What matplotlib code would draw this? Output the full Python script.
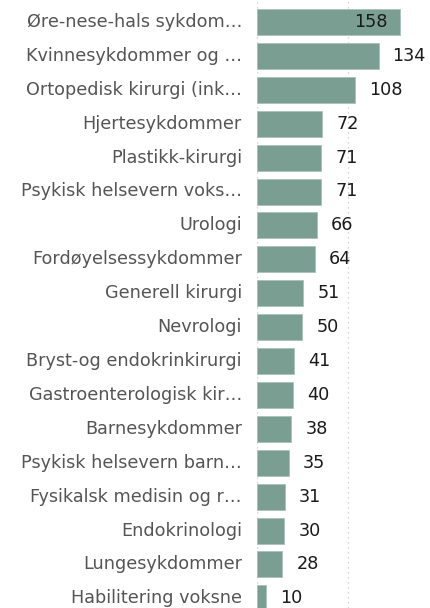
import matplotlib
matplotlib.use("Agg")
import matplotlib.pyplot as plt

categories = [
    "Øre-nese-hals sykdom…",
    "Kvinnesykdommer og …",
    "Ortopedisk kirurgi (ink…",
    "Hjertesykdommer",
    "Plastikk-kirurgi",
    "Psykisk helsevern voks…",
    "Urologi",
    "Fordøyelsessykdommer",
    "Generell kirurgi",
    "Nevrologi",
    "Bryst-og endokrinkirurgi",
    "Gastroenterologisk kir…",
    "Barnesykdommer",
    "Psykisk helsevern barn…",
    "Fysikalsk medisin og r…",
    "Endokrinologi",
    "Lungesykdommer",
    "Habilitering voksne",
]
values = [158, 134, 108, 72, 71, 71, 66, 64, 51, 50, 41, 40, 38, 35, 31, 30, 28, 10]

W, H = 431, 608
fig = plt.figure(figsize=(W / 100, H / 100), dpi=100)
x0 = 257
ax = fig.add_axes([x0 / W, 0, (W - x0) / W, 1])
ppu = 143.3 / 158  # pixels per unit
ax.set_xlim(0, (W - x0) / ppu)
pitch = 33.9
ax.set_ylim((H - 22) / pitch, -22 / pitch)

ypos = list(range(len(categories)))
for g in [0, 100, 200]:
    ax.axvline(g, color="#c8c8c8", linestyle=(0, (1, 3)), linewidth=0.9, zorder=0)

ax.barh(ypos, values, height=26 / pitch, color="#7a9e92",
        edgecolor="#a9c2b9", linewidth=0.6, zorder=2)

fs = 12.7
for y, v, c in zip(ypos, values, categories):
    if v >= 150:
        ax.text(v - 13 / ppu, y, str(v), ha="right", va="center",
                fontsize=fs, color="#1a1a1a", zorder=3)
    else:
        ax.text(v + 14 / ppu, y, str(v), ha="left", va="center",
                fontsize=fs, color="#1a1a1a", zorder=3)
    ax.text(-15 / ppu, y, c, ha="right", va="center", fontsize=fs,
            color="#555555", clip_on=False)

for s in ax.spines.values():
    s.set_visible(False)
ax.set_xticks([])
ax.set_yticks([])

fig.savefig("out.png", dpi=100)
